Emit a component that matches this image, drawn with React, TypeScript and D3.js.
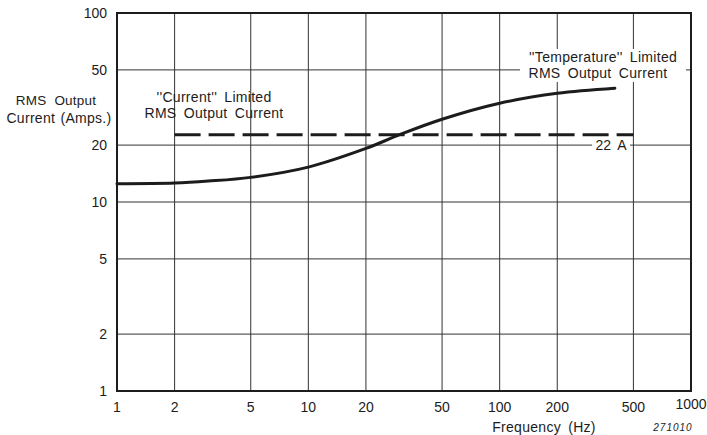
import React from 'react';
import * as d3 from 'd3';

// Frequency (Hz) vs "Temperature" limited RMS output current (A)
const freqs = [1, 2, 3, 5, 10, 20, 30, 50, 100, 200, 400];
const tempLimited = [12.5, 12.6, 12.9, 13.5, 15.3, 19.2, 22.7, 27.4, 33.3, 37.6, 40.0];

// "Current" limited level (dashed), from 2 Hz to 500 Hz
const currentLimitFreqs = [2, 500];
const currentLimit = [22.7, 22.7];

const xTicks = [1, 2, 5, 10, 20, 50, 100, 200, 500, 1000];
const yTicks = [1, 2, 5, 10, 20, 50, 100];

const W = 707;
const H = 435;
const margin = { top: 13, right: 16, bottom: 44, left: 117 };
const font = '"Liberation Sans", Arial, Helvetica, sans-serif';
const ink = '#1c1c1c';

function App() {
  const x = d3.scaleLog().domain([1, 1000]).range([margin.left, W - margin.right]);
  const y = d3.scaleLog().domain([1, 100]).range([H - margin.bottom, margin.top]);

  const line = d3.line<number>()
    .x((d, i) => x(freqs[i]))
    .y(d => y(d))
    .curve(d3.curveCatmullRom.alpha(0.5));

  const dashY = y(currentLimit[0]);

  return (
    <div style={{ position: 'absolute', left: 0, top: 0 }}>
      <svg width={W} height={H} style={{ display: 'block', background: '#fff' }} fontFamily={font}>
        {/* grid */}
        {xTicks.slice(1, -1).map(t => (
          <line key={'gx' + t} x1={x(t)} x2={x(t)} y1={y(100)} y2={y(1)} stroke="#333" strokeWidth={1} />
        ))}
        {yTicks.slice(1, -1).map(t => (
          <line key={'gy' + t} x1={x(1)} x2={x(1000)} y1={y(t)} y2={y(t)} stroke="#333" strokeWidth={1} />
        ))}
        {/* frame */}
        <rect x={x(1)} y={y(100)} width={x(1000) - x(1)} height={y(1) - y(100)} fill="none" stroke={ink} strokeWidth={2} />

        {/* tick labels */}
        {yTicks.map(t => (
          <text key={'ty' + t} x={margin.left - 10} y={y(t)} dy="0.36em" textAnchor="end" fontSize={14} fill={ink}>{t}</text>
        ))}
        {xTicks.map(t => (
          <text key={'tx' + t} x={x(t)} y={y(1) + (t === 1000 ? 13 : 16)} dy="0.36em" textAnchor="middle" fontSize={14} fill={ink}>{t}</text>
        ))}

        {/* axis titles */}
        <text x={56} y={100} dy="0.36em" textAnchor="middle" fontSize={13.5} fill={ink} letterSpacing={0.2} wordSpacing={4}>RMS Output</text>
        <text x={59} y={118} dy="0.36em" textAnchor="middle" fontSize={14} fill={ink} letterSpacing={0.3} wordSpacing={1}>Current (Amps.)</text>
        <text x={544} y={427} dy="0.36em" textAnchor="middle" fontSize={14} fill={ink} letterSpacing={0.3} wordSpacing={3}>Frequency (Hz)</text>
        <text x={673} y={427} dy="0.36em" textAnchor="middle" fontSize={10} fontStyle="italic" fill={ink} letterSpacing={1}>271010</text>

        {/* "Current" limited dashed line */}
        <line x1={x(currentLimitFreqs[0])} x2={x(currentLimitFreqs[1])} y1={dashY} y2={dashY}
          stroke={ink} strokeWidth={3} strokeDasharray="26 8" />

        {/* label backgrounds */}
        <rect x={592} y={138} width={38} height={15} fill="#fff" />
        <text x={611} y={145} dy="0.36em" textAnchor="middle" fontSize={14} fill={ink} wordSpacing={3}>22 A</text>

        <rect x={520} y={49} width={166} height={33} fill="#fff" />
        <text x={603} y={57} dy="0.36em" textAnchor="middle" fontSize={14} fill={ink} letterSpacing={0.3} wordSpacing={3}>''Temperature'' Limited</text>
        <text x={598} y={73} dy="0.36em" textAnchor="middle" fontSize={14} fill={ink} letterSpacing={0.3} wordSpacing={3}>RMS Output Current</text>

        <text x={214} y={97} dy="0.36em" textAnchor="middle" fontSize={14} fill={ink} letterSpacing={0.3} wordSpacing={3}>''Current'' Limited</text>
        <text x={214} y={113} dy="0.36em" textAnchor="middle" fontSize={14} fill={ink} letterSpacing={0.3} wordSpacing={3}>RMS Output Current</text>

        {/* "Temperature" limited curve */}
        <path d={line(tempLimited) || ''} fill="none" stroke={ink} strokeWidth={3} strokeLinecap="round" />
      </svg>
    </div>
  );
}

export default App;
